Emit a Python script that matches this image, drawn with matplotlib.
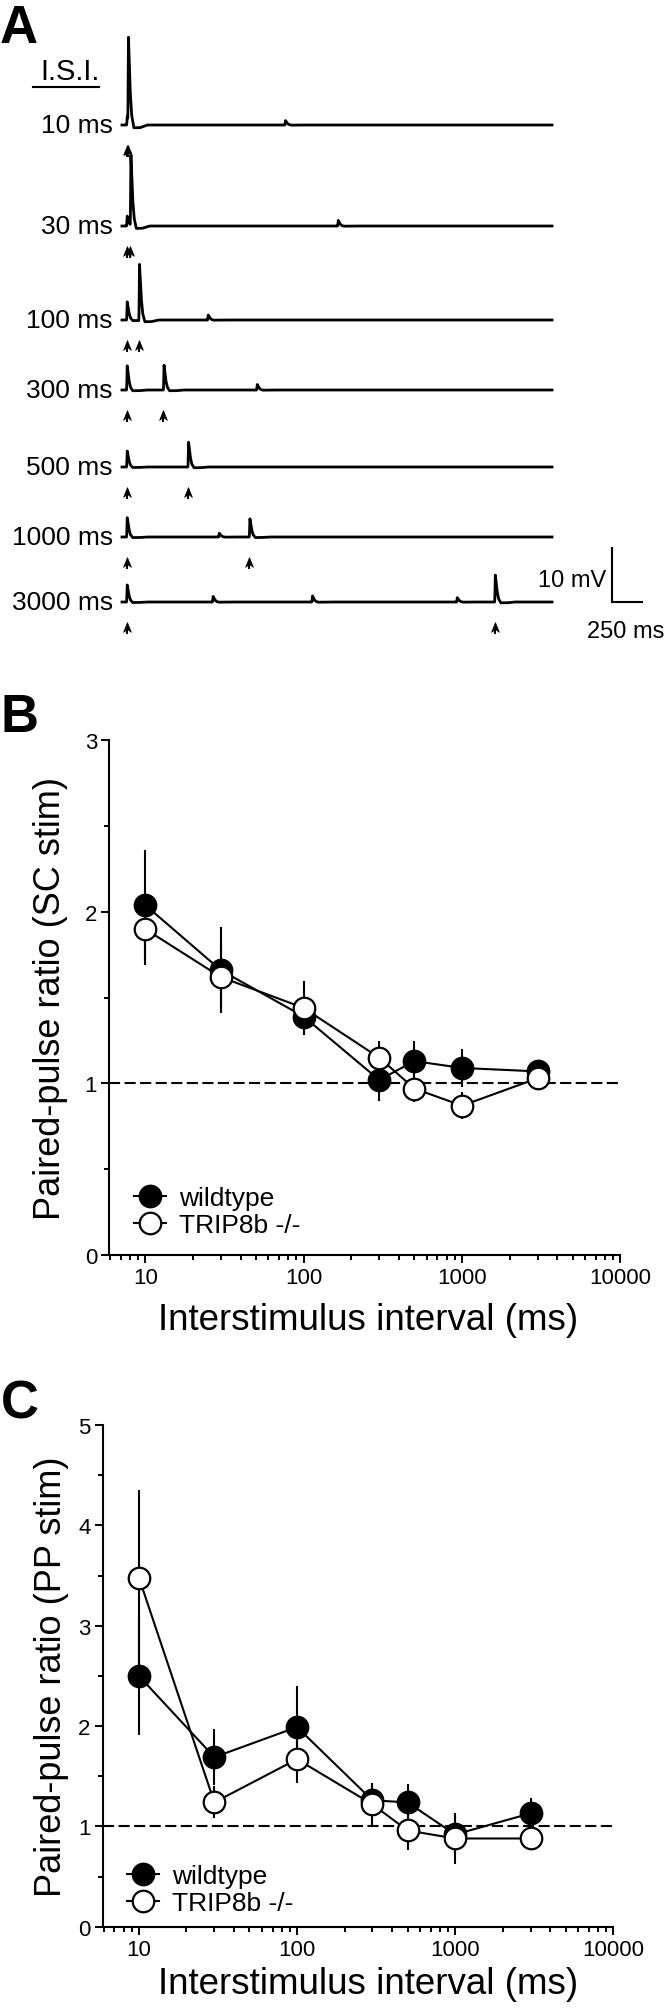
import numpy as np
import matplotlib
matplotlib.use('Agg')
import matplotlib.pyplot as plt
from matplotlib.ticker import LogLocator, NullFormatter, MultipleLocator, FixedLocator, FixedFormatter
from matplotlib.lines import Line2D
from matplotlib.path import Path

plt.rcParams['font.family'] = ['Liberation Sans', 'DejaVu Sans']
plt.rcParams['lines.scale_dashes'] = False

# ---------------------------------------------------------------- data
# Panel A: example paired-pulse traces
isi_labels = ['10 ms', '30 ms', '100 ms', '300 ms', '500 ms', '1000 ms', '3000 ms']
isi_ms = [10, 30, 100, 300, 500, 1000, 3000]
epsp1_mv = [1.5, 1.8, 3.3, 4.4, 2.9, 3.5, 3.1]      # response to 1st stimulus
epsp2_mv = [15.1, 12.7, 10.2, 4.5, 4.5, 3.3, 4.9]   # response to 2nd stimulus
# small spontaneous events: trace index, time (ms), amplitude (mV)
spont_trace = [0, 1, 2, 3, 5, 6, 6, 6]
spont_t_ms = [1290, 1720, 660, 1060, 750, 700, 1510, 2690]
spont_mv = [0.8, 1.0, 0.9, 1.0, 0.7, 1.0, 1.1, 0.8]
# EPSP waveform template (time after stimulus, fraction of peak)
tmpl_t = [0, 2, 6, 12, 20, 32, 50, 100, 160]
tmpl_frac = [0, 0.15, 1.0, 0.75, 0.4, 0.12, -0.03, -0.03, 0]
trace_start_ms, trace_end_ms = -37, 3468
scale_ms, scale_mv = 250, 10

# Panels B and C: paired-pulse ratio vs interstimulus interval
isi = [10, 30, 100, 300, 500, 1000, 3000]
sc_wt = [2.04, 1.66, 1.39, 1.02, 1.13, 1.09, 1.07]
sc_wt_err = [0.32, 0.25, 0.11, 0.12, 0.12, 0.11, 0.03]
sc_ko = [1.90, 1.62, 1.44, 1.15, 0.97, 0.87, 1.03]
sc_ko_err = [0.21, 0.20, 0.16, 0.10, 0.08, 0.08, 0.07]
pp_wt = [2.50, 1.69, 1.99, 1.26, 1.24, 0.92, 1.13]
pp_wt_err = [0.59, 0.28, 0.41, 0.16, 0.18, 0.19, 0.15]
pp_ko = [3.48, 1.24, 1.67, 1.22, 0.96, 0.88, 0.88]
pp_ko_err = [0.87, 0.16, 0.24, 0.21, 0.19, 0.25, 0.02]
series_names = ['wildtype', 'TRIP8b -/-']
xtick_vals = [10, 100, 1000, 10000]
xtick_labels = ['10', '100', '1000', '10000']

# ---------------------------------------------------------------- layout
W, H, DPI = 664, 2015, 100
fig = plt.figure(figsize=(W / DPI, H / DPI), dpi=DPI)


def fx(px):
    return px / W


def fy(py):
    return 1 - py / H


# ---- Panel A (axes in ms / mV, mapped onto pixel layout)
PX_PER_MS = 0.1227
PX_PER_MV = 5.5
STIM_PX = 126.5
TOP_BASE_PX = 126
A_BOTTOM_PX = 665
axA = fig.add_axes([0, fy(A_BOTTOM_PX), 1, A_BOTTOM_PX / H])
axA.axis('off')
axA.set_xlim(-STIM_PX / PX_PER_MS, (W - STIM_PX) / PX_PER_MS)
axA.set_ylim((TOP_BASE_PX - A_BOTTOM_PX) / PX_PER_MV, TOP_BASE_PX / PX_PER_MV)

base_px = [126, 227, 321, 391, 468, 538, 603]
base_mv = [(TOP_BASE_PX - b) / PX_PER_MV for b in base_px]

# notched arrow-head marker
head = Path([(0, 1), (0.8, -1), (0, -0.4), (-0.8, -1), (0, 1)],
            [Path.MOVETO, Path.LINETO, Path.LINETO, Path.LINETO, Path.CLOSEPOLY])

t = np.arange(trace_start_ms, trace_end_ms + 1, 1.0)
for i in range(len(isi_ms)):
    v = np.full_like(t, base_mv[i])
    events = [(0.0, epsp1_mv[i]), (isi_ms[i], epsp2_mv[i])]
    events += [(spont_t_ms[k], spont_mv[k]) for k in range(len(spont_trace)) if spont_trace[k] == i]
    for t0, amp in events:
        v += amp * np.interp(t - t0, tmpl_t, tmpl_frac, left=0, right=0)
    axA.plot(t, v, color='black', lw=2.0, solid_joinstyle='round')
    # stimulus arrows
    for ts in (0.0, isi_ms[i]):
        axA.plot([ts, ts], [base_mv[i] - 26 / PX_PER_MV, base_mv[i] - 32 / PX_PER_MV],
                 color='black', lw=1.4, solid_capstyle='butt')
        axA.plot([ts], [base_mv[i] - 24.5 / PX_PER_MV], marker=head, ms=7,
                 color='black', mew=0.5, linestyle='none')
    axA.text((113 - STIM_PX) / PX_PER_MS, base_mv[i] - 7 / PX_PER_MV, isi_labels[i],
             ha='right', va='baseline', fontsize=19)

# scale bar
sb_x = (612.3 - STIM_PX) / PX_PER_MS
sb_y = base_mv[-1]
axA.plot([sb_x, sb_x, sb_x + scale_ms], [sb_y + scale_mv, sb_y, sb_y],
         color='black', lw=1.5, solid_capstyle='butt', solid_joinstyle='miter')
axA.text(sb_x - 6 / PX_PER_MS, sb_y + 16 / PX_PER_MV, f'{scale_mv} mV',
         ha='right', va='baseline', fontsize=17)
axA.text(sb_x - 25 / PX_PER_MS, sb_y - 35 / PX_PER_MV, f'{scale_ms} ms',
         ha='left', va='baseline', fontsize=17)

# I.S.I. header
fig.text(fx(70), fy(80), 'I.S.I.', ha='center', va='baseline', fontsize=21)
fig.add_artist(Line2D([fx(33), fx(99)], [fy(88), fy(88)], color='black', lw=1.5,
                      transform=fig.transFigure))

# panel letters
fig.text(fx(0), fy(43), 'A', ha='left', va='baseline', fontsize=38, fontweight='bold')
fig.text(fx(0), fy(732), 'B', ha='left', va='baseline', fontsize=38, fontweight='bold')
fig.text(fx(1), fy(1419), 'C', ha='left', va='baseline', fontsize=38, fontweight='bold')

MS = 15.5


def ratio_panel(rect_px, xmin, ymax, wt, wt_err, ko, ko_err, ylabel,
                leg_xy, xlab_y, ylab_x):
    l, r, top, bot = rect_px
    ax = fig.add_axes([fx(l), fy(bot), (r - l) / W, (bot - top) / H])
    ax.axhline(1, color='black', lw=1.5, dashes=(8, 3.2), zorder=1)
    kw = dict(fmt='-o', color='black', mec='black', ms=MS, mew=1.6, lw=1.5,
              elinewidth=1.5, capsize=0)
    ax.errorbar(isi, wt, yerr=wt_err, mfc='black', zorder=3, **kw)
    ax.errorbar(isi, ko, yerr=ko_err, mfc='white', zorder=4, **kw)
    ax.set_xscale('log')
    ax.set_xlim(xmin, 10000)
    ax.set_ylim(0, ymax)
    for s in ('top', 'right'):
        ax.spines[s].set_visible(False)
    for s in ('left', 'bottom'):
        ax.spines[s].set_linewidth(1.5)
    ax.xaxis.set_major_locator(FixedLocator(xtick_vals))
    ax.xaxis.set_major_formatter(FixedFormatter(xtick_labels))
    ax.xaxis.set_minor_locator(LogLocator(base=10, subs=np.arange(2, 10)))
    ax.xaxis.set_minor_formatter(NullFormatter())
    ax.yaxis.set_major_locator(MultipleLocator(1))
    ax.yaxis.set_minor_locator(MultipleLocator(0.5))
    ax.tick_params(which='major', direction='out', length=5.8, width=1.4, labelsize=16, pad=3)
    ax.tick_params(which='minor', direction='out', length=3.6, width=1.4)
    ax.set_xlabel('Interstimulus interval (ms)', fontsize=26.5, va='center')
    ax.xaxis.set_label_coords(0.5 + (368.5 - (l + r) / 2) / (r - l), (bot - xlab_y) / (bot - top))
    ax.set_ylabel(ylabel, fontsize=26, va='center')
    ax.yaxis.set_label_coords((ylab_x - l) / (r - l), 0.5)
    handles = [Line2D([], [], color='black', lw=1.5, marker='o', ms=MS, mew=1.6,
                      mfc='black', mec='black'),
               Line2D([], [], color='black', lw=1.5, marker='o', ms=MS, mew=1.6,
                      mfc='white', mec='black')]
    ax.legend(handles, series_names, loc='center left',
              bbox_to_anchor=((leg_xy[0] - l) / (r - l), (bot - leg_xy[1]) / (bot - top)),
              frameon=False, fontsize=19, handlelength=1.2, handletextpad=0.5,
              labelspacing=0.12, borderpad=0, borderaxespad=0)
    return ax


ratio_panel((109.3, 620.4, 741.4, 1255.9), 5.93, 3, sc_wt, sc_wt_err, sc_ko, sc_ko_err,
            'Paired-pulse ratio (SC stim)', (134, 1212.5), 1320, 51)
ratio_panel((102.9, 613.2, 1426.0, 1927.8), 5.92, 5, pp_wt, pp_wt_err, pp_ko, pp_ko_err,
            'Paired-pulse ratio (PP stim)', (127, 1890.5), 1984, 52)

fig.savefig('out.png', dpi=DPI)
